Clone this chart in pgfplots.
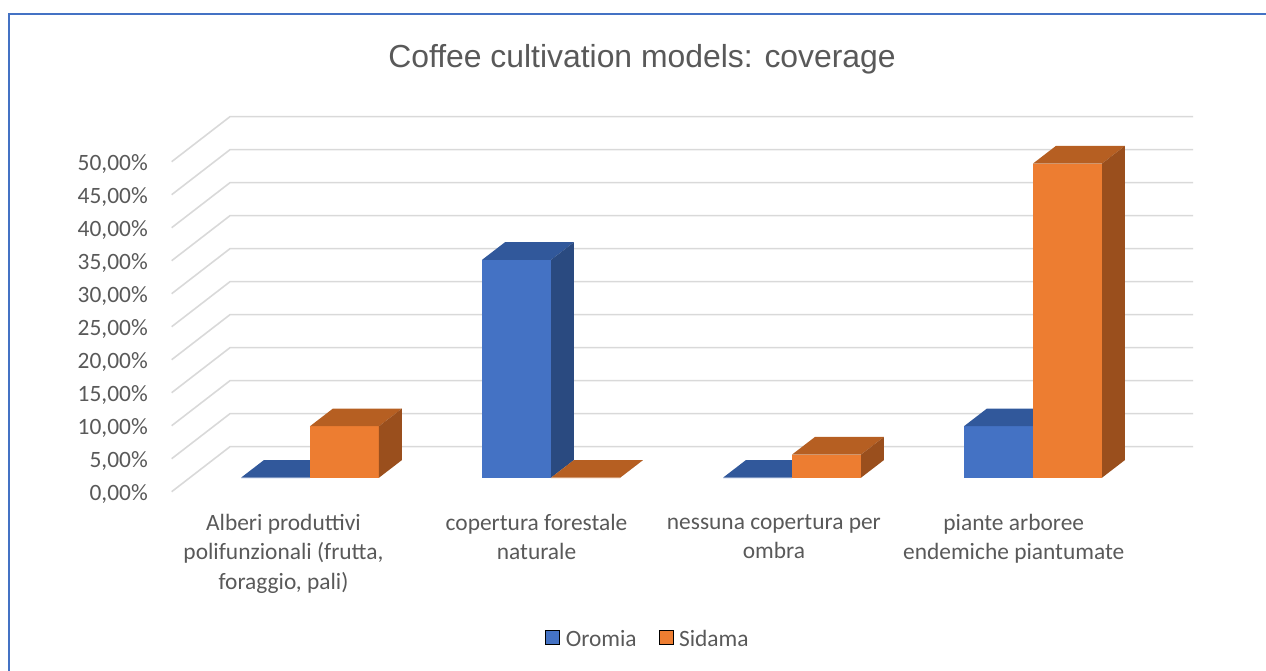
\documentclass[border=0pt]{standalone}
\usepackage{pgfplots}
\pgfplotsset{compat=1.18}
\usepackage{pgfplotstable}
\usepackage{fontspec}
\setmainfont{Carlito}
\newfontfamily\titlefont{Liberation Sans}
\definecolor{oromiaF}{HTML}{4472C4}
\definecolor{oromiaT}{HTML}{31589B}
\definecolor{oromiaS}{HTML}{2A4A80}
\definecolor{sidamaF}{HTML}{ED7D31}
\definecolor{sidamaT}{HTML}{B65F22}
\definecolor{sidamaS}{HTML}{9A4F1D}
\definecolor{gridc}{HTML}{D9D9D9}
\definecolor{labgray}{HTML}{595959}
\definecolor{border}{HTML}{4472C4}
\newcommand\lab{\fontsize{23.5}{29.5}\selectfont}

% values in percent
\pgfplotstableread{
cat Oromia Sidama
0 0    7.8
1 33.0 0
2 0    3.5
3 7.8  47.6
}\datatable

\newcommand\bw{0.2863}
\newcommand\ddx{0.0954}
\newcommand\ddy{2.68}
\newcommand\barthreed[5]{%
  \pgfmathsetmacro\bxa{#1}%
  \pgfmathsetmacro\bxb{#1+\bw}%
  \pgfmathsetmacro\bxc{#1+\bw+\ddx}%
  \pgfmathsetmacro\bxd{#1+\ddx}%
  \pgfmathsetmacro\bhTop{#2}%
  \pgfmathsetmacro\bhBack{#2+\ddy}%
  \addplot[forget plot, fill=#3, draw=none] coordinates {(\bxa,0) (\bxb,0) (\bxb,\bhTop) (\bxa,\bhTop)};
  \addplot[forget plot, fill=#4, draw=none] coordinates {(\bxa,\bhTop) (\bxb,\bhTop) (\bxc,\bhBack) (\bxd,\bhBack)};
  \addplot[forget plot, fill=#5, draw=none] coordinates {(\bxb,0) (\bxb,\bhTop) (\bxc,\bhBack) (\bxc,\ddy)};
}

\begin{document}
\begin{tikzpicture}
\begin{axis}[
  x=241bp, y=6.6bp,
  xmin=-0.5739, xmax=3.664, ymin=-2.167, ymax=54.7,
  clip=false,
  axis line style={draw=none},
  major tick length=0pt,
  ytick={0,5,...,50},
  yticklabels={{0,00\%},{5,00\%},{10,00\%},{15,00\%},{20,00\%},{25,00\%},{30,00\%},{35,00\%},{40,00\%},{45,00\%},{50,00\%}},
  yticklabel style={font=\lab, text=labgray, anchor=east, inner sep=0pt, xshift=-23.7bp, yshift=-16bp},
  xtick={-0.11,0.94,1.925,2.92},
  xticklabels={{Alberi produttivi\\polifunzionali (frutta,\\foraggio, pali)},{copertura forestale\\naturale},{nessuna copertura per\\ombra},{piante arboree\\endemiche piantumate}},
  xticklabel style={font=\lab, text=labgray, align=center, anchor=north, inner sep=0pt, yshift=-22bp},
  legend image code/.code={\fill[#1] (0bp,-5bp) rectangle (14bp,9bp);},
  legend columns=-1,
  legend style={draw=none, fill=none, at={(0.4654,-0.389)}, anchor=center, font=\lab, text=labgray,
    nodes={inner sep=0pt, text height=15bp, text depth=0bp},
    /tikz/every odd column/.append style={column sep=6bp},
    /tikz/every even column/.append style={column sep=22bp}},
]
% back wall + side wall gridlines
\foreach \a/\b in {-2.12/4.70, 2.88/9.70, 7.88/14.70, 12.88/19.70, 17.88/24.70, 22.88/29.70, 27.88/34.70, 32.88/39.70, 37.88/44.70, 42.88/49.70, 47.88/54.70}{
  \edef\temp{\noexpand\draw[gridc, line width=1.6bp] (axis cs:-0.5739,\a) -- (axis cs:-0.3320,\b) -- (axis cs:3.664,\b);}
  \temp
}
\pgfplotsforeachungrouped \i in {0,1,2,3}{%
  \pgfplotstablegetelem{\i}{Oromia}\of\datatable \let\vO\pgfplotsretval
  \pgfplotstablegetelem{\i}{Sidama}\of\datatable \let\vS\pgfplotsretval
  \pgfmathsetmacro\xO{\i-\bw}%
  \barthreed{\xO}{\vO}{oromiaF}{oromiaT}{oromiaS}
  \barthreed{\i}{\vS}{sidamaF}{sidamaT}{sidamaS}
}
\addlegendimage{fill=oromiaF}\addlegendentry{Oromia}
\addlegendimage{fill=sidamaF}\addlegendentry{Sidama}
\node[font=\titlefont\fontsize{32}{38}\selectfont, text=labgray, anchor=base, inner sep=0pt] at (axis cs:1.3776,62.18) {Coffee cultivation models: coverage};
\draw[border, line width=2bp] (axis cs:-1.2477,-30.67) -- (axis cs:-1.2477,70.227) -- (axis cs:4.004,70.227);
\coordinate (bbA) at (axis cs:-1.28631,72.3788);
\coordinate (bbB) at (axis cs:3.96680,-29.288);
\end{axis}
\pgfresetboundingbox
\path[use as bounding box] (bbA) rectangle (bbB);
\end{tikzpicture}
\end{document}
